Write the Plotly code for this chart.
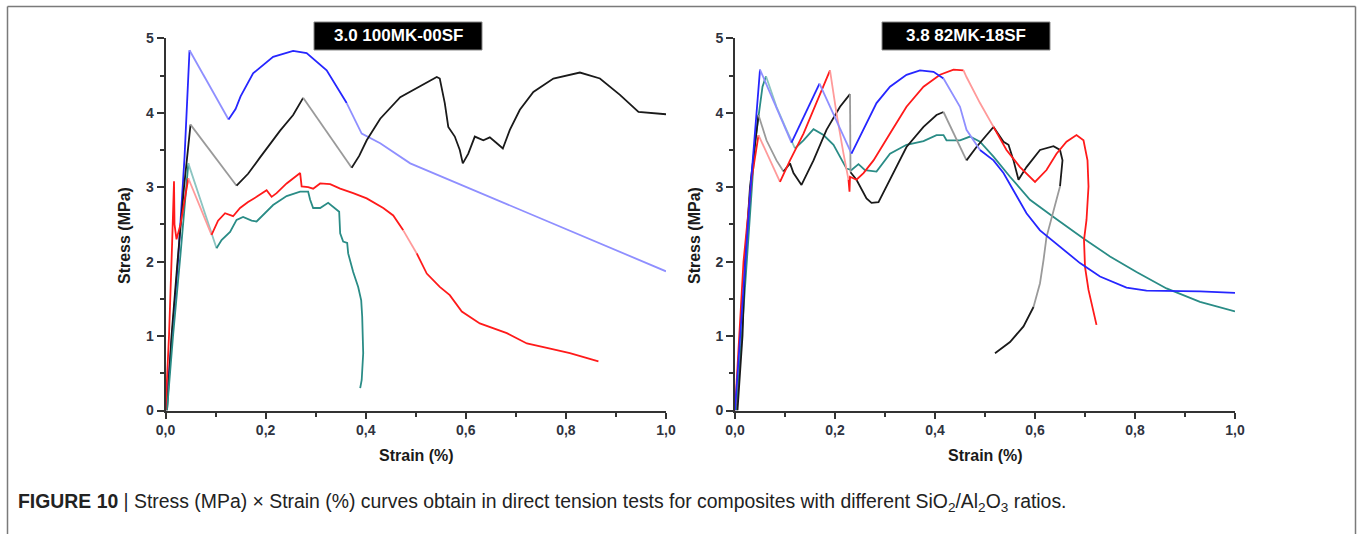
import plotly.graph_objects as go

# ---------------- data (strain %, stress MPa) ----------------
# Left panel: 3.0 100MK-00SF
L_blue_x = [0, 0.01, 0.025, 0.038, 0.048, 0.126, 0.14, 0.15, 0.175, 0.215, 0.255, 0.282, 0.322, 0.362, 0.392, 0.429, 0.489, 1.0]
L_blue_y = [0, 0.75, 2.0, 3.4, 4.84, 3.91, 4.05, 4.22, 4.53, 4.75, 4.83, 4.80, 4.57, 4.13, 3.72, 3.59, 3.32, 1.87]

L_black_x = [0.003, 0.012, 0.024, 0.037, 0.050, 0.142, 0.165, 0.189, 0.229, 0.255, 0.275, 0.372, 0.387, 0.402, 0.429,
             0.469, 0.508, 0.542, 0.548, 0.558, 0.565, 0.578, 0.588, 0.594, 0.605, 0.618, 0.635, 0.648, 0.662, 0.674,
             0.688, 0.708, 0.735, 0.775, 0.828, 0.868, 0.908, 0.945, 1.0]
L_black_y = [0, 1.0, 2.0, 3.0, 3.84, 3.02, 3.18, 3.40, 3.76, 3.97, 4.20, 3.26, 3.42, 3.63, 3.92,
             4.21, 4.35, 4.48, 4.46, 4.13, 3.81, 3.68, 3.50, 3.32, 3.45, 3.68, 3.63, 3.67, 3.59, 3.52,
             3.77, 4.04, 4.28, 4.46, 4.54, 4.46, 4.24, 4.01, 3.98]

L_red_x = [0, 0.007, 0.013, 0.017, 0.018, 0.022, 0.030, 0.038, 0.0456, 0.092, 0.105, 0.119, 0.135, 0.149, 0.165,
           0.182, 0.202, 0.212, 0.222, 0.242, 0.269, 0.272, 0.285, 0.295, 0.309, 0.329, 0.349, 0.375, 0.402, 0.435,
           0.455, 0.475, 0.502, 0.522, 0.548, 0.568, 0.592, 0.628, 0.682, 0.722, 0.762, 0.808, 0.865]
L_red_y = [0, 1.0, 2.2, 3.08, 2.5, 2.3, 2.5, 2.8, 3.12, 2.36, 2.55, 2.65, 2.61, 2.72, 2.80,
           2.87, 2.96, 2.87, 2.92, 3.05, 3.19, 3.01, 3.00, 2.98, 3.05, 3.04, 2.98, 2.92, 2.85, 2.72,
           2.62, 2.42, 2.11, 1.84, 1.66, 1.55, 1.33, 1.17, 1.04, 0.90, 0.84, 0.77, 0.66]

L_teal_x = [0.003, 0.015, 0.030, 0.0456, 0.102, 0.112, 0.129, 0.142, 0.155, 0.172, 0.182, 0.202, 0.215, 0.242, 0.269,
            0.285, 0.289, 0.295, 0.309, 0.325, 0.335, 0.347, 0.349, 0.355, 0.363, 0.365, 0.375, 0.385, 0.391, 0.393,
            0.395, 0.392, 0.389]
L_teal_y = [0, 1.0, 2.1, 3.32, 2.18, 2.29, 2.40, 2.56, 2.60, 2.55, 2.54, 2.68, 2.76, 2.88, 2.94,
            2.94, 2.83, 2.72, 2.72, 2.79, 2.74, 2.67, 2.38, 2.27, 2.25, 2.11, 1.86, 1.66, 1.48, 1.26,
            0.77, 0.41, 0.30]

# Right panel: 3.8 82MK-18SF
R_blue_x = [0, 0.015, 0.030, 0.050, 0.113, 0.169, 0.233, 0.257, 0.283, 0.31, 0.343, 0.37, 0.397, 0.417, 0.45,
            0.463, 0.49, 0.517, 0.537, 0.563, 0.583, 0.61, 0.65, 0.69, 0.73, 0.783, 0.823, 0.877, 0.93, 1.0]
R_blue_y = [0, 1.45, 2.9, 4.58, 3.60, 4.39, 3.45, 3.77, 4.13, 4.35, 4.51, 4.57, 4.55, 4.46, 4.08,
            3.77, 3.50, 3.36, 3.19, 2.88, 2.65, 2.42, 2.20, 1.98, 1.80, 1.65, 1.61, 1.61, 1.60, 1.58]

R_red_x = [0, 0.017, 0.033, 0.047, 0.090, 0.110, 0.137, 0.163, 0.190, 0.203, 0.217, 0.227, 0.229, 0.230, 0.243,
           0.257, 0.277, 0.31, 0.343, 0.377, 0.41, 0.437, 0.457, 0.463, 0.49, 0.517, 0.543, 0.57, 0.60, 0.623,
           0.643, 0.663, 0.683, 0.697, 0.705, 0.707, 0.703, 0.698, 0.700, 0.707, 0.717, 0.723]
R_red_y = [0, 2.0, 3.10, 3.70, 3.07, 3.36, 3.72, 4.13, 4.57, 3.99, 3.45, 3.10, 2.94, 3.14, 3.10,
           3.19, 3.36, 3.72, 4.08, 4.35, 4.51, 4.58, 4.57, 4.48, 4.13, 3.81, 3.50, 3.27, 3.07, 3.23,
           3.45, 3.61, 3.70, 3.63, 3.36, 3.01, 2.56, 2.29, 1.93, 1.62, 1.35, 1.15]

R_black_x = [0.005, 0.010, 0.015, 0.020, 0.030, 0.047, 0.063, 0.083, 0.097, 0.110, 0.117, 0.133, 0.157, 0.183, 0.21,
             0.23, 0.231, 0.243, 0.263, 0.273, 0.287, 0.31, 0.343, 0.377, 0.403, 0.417, 0.437, 0.463, 0.483, 0.517,
             0.537, 0.547, 0.557, 0.567, 0.583, 0.61, 0.637, 0.65, 0.655, 0.65, 0.643, 0.633, 0.623, 0.617, 0.61,
             0.597, 0.577, 0.55, 0.52]
R_black_y = [0, 0.5, 1.0, 2.0, 3.0, 3.97, 3.63, 3.36, 3.21, 3.32, 3.19, 3.03, 3.36, 3.77, 4.08,
             4.25, 3.20, 3.10, 2.85, 2.79, 2.80, 3.10, 3.54, 3.81, 3.97, 4.01, 3.72, 3.36, 3.54, 3.81,
             3.61, 3.57, 3.36, 3.10, 3.27, 3.50, 3.55, 3.50, 3.36, 3.01, 2.83, 2.60, 2.33, 2.02, 1.71,
             1.39, 1.13, 0.92, 0.77]

R_teal_x = [0.003, 0.023, 0.040, 0.055, 0.062, 0.083, 0.103, 0.12, 0.137, 0.157, 0.177, 0.197, 0.21, 0.223, 0.233,
            0.247, 0.26, 0.283, 0.31, 0.343, 0.377, 0.403, 0.417, 0.423, 0.45, 0.47, 0.49, 0.517, 0.55, 0.59,
            0.637, 0.697, 0.75, 0.803, 0.863, 0.93, 1.0]
R_teal_y = [0, 2.0, 3.6, 4.35, 4.49, 4.08, 3.77, 3.52, 3.63, 3.78, 3.70, 3.57, 3.41, 3.25, 3.23,
            3.31, 3.23, 3.21, 3.45, 3.57, 3.62, 3.70, 3.70, 3.63, 3.63, 3.68, 3.61, 3.41, 3.14, 2.83,
            2.60, 2.31, 2.07, 1.86, 1.64, 1.46, 1.33]

panel_titles = ["3.0 100MK-00SF", "3.8 82MK-18SF"]
x_ticks = [0, 0.2, 0.4, 0.6, 0.8, 1.0]
y_ticks = [0, 1, 2, 3, 4, 5]
caption = ("<b>FIGURE 10</b> | Stress (MPa) × Strain (%) curves obtain in direct tension tests for composites "
           "with different SiO<sub>2</sub>/Al<sub>2</sub>O<sub>3</sub> ratios.")

# ---------------- styles ----------------
W, H = 1357, 534
COL = {
    "blue": ("#2626ff", "#8f8fff"),
    "red": ("#ff1a1a", "#ff9a9a"),
    "black": ("#1a1a1a", "#9a9a9a"),
    "teal": ("#2a8c86", "#8cc5c1"),
}
# index ranges (segments) drawn in the lighter (fast-recorded) tone
LIGHT = {
    "L_blue": [(4, 5), (13, 17)],
    "L_black": [(4, 5), (10, 11)],
    "L_red": [(8, 9), (31, 32)],
    "L_teal": [(3, 4)],
    "R_blue": [(3, 4), (5, 6), (13, 16)],
    "R_red": [(3, 4), (8, 11), (22, 25)],
    "R_black": [(5, 8), (15, 16), (25, 27), (39, 45)],
    "R_teal": [(4, 7)],
}


def px(x):
    return x / W


def py(y):
    return 1 - y / H


fig = go.Figure()


def add_curve(name, xs, ys, color, xa, ya):
    dark, light = COL[color]
    ranges = LIGHT.get(name, [])

    def is_light(i):
        return any(a <= i < b for a, b in ranges)

    n = len(xs)
    start = 0
    while start < n - 1:
        lt = is_light(start)
        end = start
        while end < n - 1 and is_light(end) == lt:
            end += 1
        fig.add_trace(go.Scatter(
            x=xs[start:end + 1], y=ys[start:end + 1], mode="lines",
            line=dict(color=light if lt else dark, width=1.8),
            xaxis=xa, yaxis=ya, hoverinfo="skip", showlegend=False))
        start = end


add_curve("L_blue", L_blue_x, L_blue_y, "blue", "x", "y")
add_curve("L_black", L_black_x, L_black_y, "black", "x", "y")
add_curve("L_teal", L_teal_x, L_teal_y, "teal", "x", "y")
add_curve("L_red", L_red_x, L_red_y, "red", "x", "y")
add_curve("R_teal", R_teal_x, R_teal_y, "teal", "x2", "y2")
add_curve("R_black", R_black_x, R_black_y, "black", "x2", "y2")
add_curve("R_red", R_red_x, R_red_y, "red", "x2", "y2")
add_curve("R_blue", R_blue_x, R_blue_y, "blue", "x2", "y2")

AX_COL = "#333333"
tick_font = dict(family="Liberation Sans", size=14, color="#2f3340", weight="bold")
common_x = dict(range=[0, 1], tickvals=x_ticks, tickformat=".1f", showline=True, linewidth=2,
                linecolor=AX_COL, ticks="outside", ticklen=6, tickwidth=2, tickcolor=AX_COL,
                showgrid=False, zeroline=False, tickfont=tick_font, automargin=False,
                minor=dict(dtick=0.1, ticks="outside", ticklen=4, tickwidth=2, tickcolor=AX_COL))
common_y = dict(range=[0, 5], tickvals=y_ticks, showline=True, linewidth=2, linecolor=AX_COL,
                ticks="outside", ticklen=7, tickwidth=2, tickcolor=AX_COL, showgrid=False,
                zeroline=False, tickfont=tick_font, automargin=False,
                minor=dict(dtick=0.5, ticks="outside", ticklen=4, tickwidth=2, tickcolor=AX_COL),
                domain=[py(410.5), py(38.3)])

fig.update_layout(
    width=W, height=H, margin=dict(l=0, r=0, t=0, b=0, pad=0, autoexpand=False),
    paper_bgcolor="white", plot_bgcolor="white", showlegend=False,
    separators=",.",
    xaxis=dict(domain=[px(165.5), px(666)], anchor="y", **common_x),
    yaxis=dict(anchor="x", **common_y),
    xaxis2=dict(domain=[px(735), px(1235)], anchor="y2", **common_x),
    yaxis2=dict(anchor="x2", **common_y),
)

shapes = []
annotations = []
# outer frame (open at the bottom)
for (xa0, ya0, xa1, ya1) in [(7.5, 6.5, 7.5, 560), (7.5, 6.5, 1355.5, 6.5), (1355.5, 6.5, 1355.5, 560)]:
    shapes.append(dict(type="line", xref="paper", yref="paper", x0=px(xa0), y0=py(ya0), x1=px(xa1), y1=py(ya1),
                       line=dict(color="#7a7a7a", width=1.5)))

for title, (x0, x1) in zip(panel_titles, [(314, 482), (882, 1050)]):
    shapes.append(dict(type="rect", xref="paper", yref="paper", x0=px(x0), x1=px(x1), y0=py(50), y1=py(22),
                       fillcolor="black", line=dict(color="#888888", width=1)))
    annotations.append(dict(text=f"<b>{title}</b>", xref="paper", yref="paper", x=px((x0 + x1) / 2), y=py(36),
                            xanchor="center", yanchor="middle", showarrow=False,
                            font=dict(family="Liberation Sans", size=17, color="white")))

for xc in [125, 695]:
    annotations.append(dict(text="<b>Stress (MPa)</b>", xref="paper", yref="paper", x=px(xc), y=py(236),
                            xanchor="center", yanchor="middle", textangle=-90, showarrow=False,
                            font=dict(family="Liberation Sans", size=16, color="#1a1a1a")))
for xc in [416, 985]:
    annotations.append(dict(text="<b>Strain (%)</b>", xref="paper", yref="paper", x=px(xc), y=py(455),
                            xanchor="center", yanchor="middle", showarrow=False,
                            font=dict(family="Liberation Sans", size=16, color="#1a1a1a")))

annotations.append(dict(text=caption, xref="paper", yref="paper", x=px(16), y=py(502),
                        xanchor="left", yanchor="middle", showarrow=False, align="left",
                        font=dict(family="Liberation Sans", size=19.4, color="#222222")))

fig.update_layout(shapes=shapes, annotations=annotations)
fig.write_html("out.html", config={"displayModeBar": False},
               post_script="document.body.style.margin='0';document.body.style.overflow='hidden';")
